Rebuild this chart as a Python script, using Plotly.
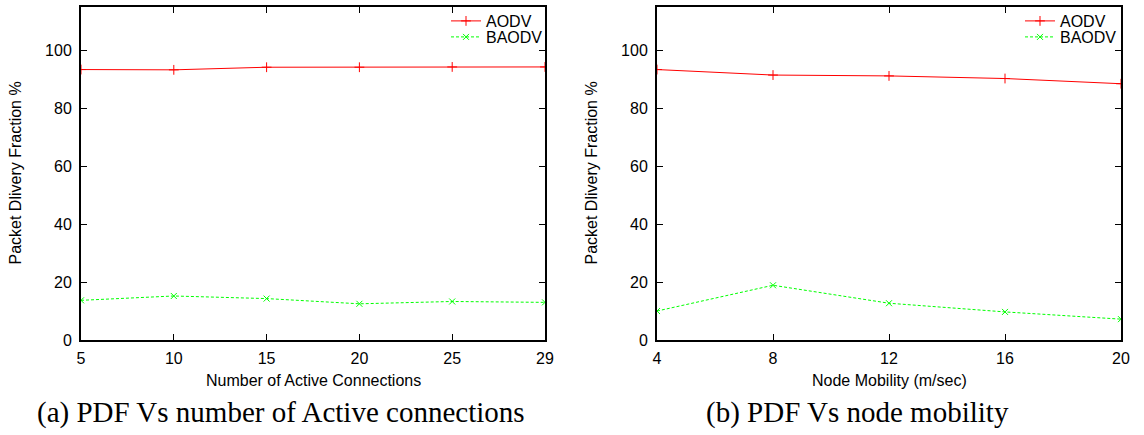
import plotly.graph_objects as go

# ---- data ----
conn_labels = ["5", "10", "15", "20", "25", "29"]
conn_aodv = [93.4, 93.3, 94.2, 94.2, 94.3, 94.3]
conn_baodv = [13.7, 15.2, 14.3, 12.5, 13.3, 13.0]

mob_x = [4, 8, 12, 16, 20]
mob_aodv = [93.4, 91.5, 91.2, 90.3, 88.5]
mob_baodv = [10.0, 18.9, 12.7, 9.7, 7.2]

y_ticks = [0, 20, 40, 60, 80, 100]

RED = "#ff0000"
GREEN = "#00ff00"
SANS = "Liberation Sans, Arial, sans-serif"
SERIF = "Liberation Serif, Times New Roman, serif"

W, H = 1144, 435
def px(x):
    return x / W
def py(y):
    return 1 - y / H

fig = go.Figure()

red_line = dict(color=RED, width=1)
green_line = dict(color=GREEN, width=1, dash="3px,2px")
red_marker = dict(symbol="cross-thin", size=7, line=dict(color=RED, width=1))
green_marker = dict(symbol="x-thin", size=6, line=dict(color=GREEN, width=1))

fig.add_trace(go.Scatter(x=conn_labels, y=conn_aodv, name="AODV", mode="lines+markers",
                         line=red_line, marker=red_marker,
                         xaxis="x", yaxis="y", legend="legend"))
fig.add_trace(go.Scatter(x=conn_labels, y=conn_baodv, name="BAODV", mode="lines+markers",
                         line=green_line, marker=green_marker,
                         xaxis="x", yaxis="y", legend="legend2"))
fig.add_trace(go.Scatter(x=mob_x, y=mob_aodv, name="AODV", mode="lines+markers",
                         line=red_line, marker=red_marker,
                         xaxis="x2", yaxis="y2", legend="legend3"))
fig.add_trace(go.Scatter(x=mob_x, y=mob_baodv, name="BAODV", mode="lines+markers",
                         line=green_line, marker=green_marker,
                         xaxis="x2", yaxis="y2", legend="legend4"))

axis_common = dict(showline=True, linecolor="black", linewidth=2, mirror="ticks",
                   ticks="inside", ticklen=6, tickwidth=1, tickcolor="black",
                   showgrid=False, zeroline=False, automargin=False,
                   tickfont=dict(family=SANS, size=16, color="black"))

ydom = [py(340), py(7)]

def leg(xleft, ycenter):
    return dict(x=px(xleft), y=py(ycenter), xanchor="left", yanchor="middle",
                bgcolor="rgba(0,0,0,0)", itemwidth=30, tracegroupgap=0,
                font=dict(family=SANS, size=16, color="black"))

fig.update_layout(
    width=W, height=H,
    margin=dict(l=0, r=0, t=0, b=0),
    paper_bgcolor="white", plot_bgcolor="white",
    xaxis=dict(domain=[px(81), px(545)], type="category", range=[0, 5],
               anchor="y", ticklabelstandoff=3, **axis_common),
    yaxis=dict(domain=ydom, range=[0, 115], tickvals=y_ticks, anchor="x",
               ticklabelstandoff=4, **axis_common),
    xaxis2=dict(domain=[px(657), px(1121)], range=[4, 20], tickvals=mob_x, anchor="y2",
                ticklabelstandoff=3, **axis_common),
    yaxis2=dict(domain=ydom, range=[0, 115], tickvals=y_ticks, anchor="x2",
                ticklabelstandoff=4, **axis_common),
    legend=leg(446, 21),
    legend2=leg(446, 37),
    legend3=leg(1020, 21),
    legend4=leg(1020, 37),
    showlegend=True,
)

ann = [
    dict(text="Packet Dlivery Fraction %", x=px(15), y=py(173.5), textangle=-90),
    dict(text="Packet Dlivery Fraction %", x=px(591), y=py(173.5), textangle=-90),
    dict(text="Number of Active Connections", x=px(313), y=py(380)),
    dict(text="Node Mobility (m/sec)", x=px(889), y=py(380)),
]
for a in ann:
    fig.add_annotation(xref="paper", yref="paper", showarrow=False,
                       xanchor="center", yanchor="middle",
                       font=dict(family=SANS, size=16, color="black"), **a)

caps = [
    dict(text="(a) PDF Vs number of Active connections", x=px(281), y=py(412)),
    dict(text="(b) PDF Vs node mobility", x=px(857), y=py(412)),
]
for a in caps:
    fig.add_annotation(xref="paper", yref="paper", showarrow=False,
                       xanchor="center", yanchor="middle",
                       font=dict(family=SERIF, size=29, color="black"), **a)

fig.write_html("out.html", config={"displayModeBar": False},
               post_script="document.body.style.margin='0px';document.body.style.overflow='hidden';")
